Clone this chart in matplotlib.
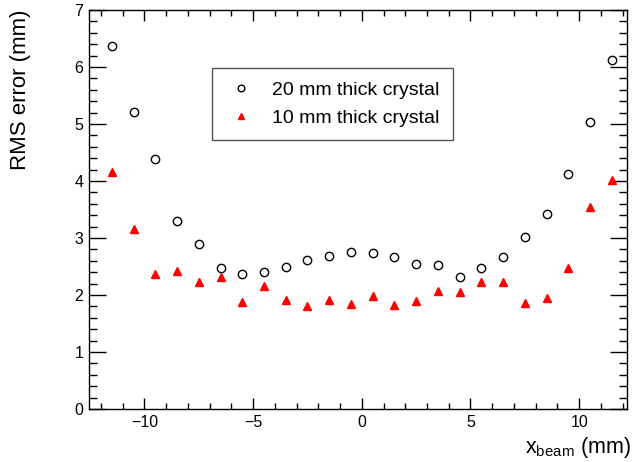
import matplotlib
matplotlib.use("Agg")
import matplotlib.pyplot as plt
from matplotlib.ticker import MultipleLocator

plt.rcParams["font.family"] = ["Liberation Sans", "DejaVu Sans"]

# --- data ---
x_beam = [-11.5, -10.5, -9.5, -8.5, -7.5, -6.5, -5.5, -4.5, -3.5, -2.5, -1.5, -0.5,
          0.5, 1.5, 2.5, 3.5, 4.5, 5.5, 6.5, 7.5, 8.5, 9.5, 10.5, 11.5]
rms_20mm = [6.36, 5.21, 4.39, 3.30, 2.90, 2.47, 2.36, 2.41, 2.49, 2.62, 2.68, 2.76,
            2.73, 2.67, 2.54, 2.53, 2.31, 2.47, 2.67, 3.01, 3.42, 4.13, 5.04, 6.13]
rms_10mm = [4.15, 3.16, 2.36, 2.42, 2.22, 2.32, 1.87, 2.15, 1.91, 1.81, 1.92, 1.85,
            1.98, 1.82, 1.89, 2.07, 2.05, 2.23, 2.22, 1.86, 1.95, 2.47, 3.54, 4.02]
label_20mm = "20 mm thick crystal"
label_10mm = "10 mm thick crystal"

W, H = 634, 462
fig = plt.figure(figsize=(W / 100, H / 100), dpi=100)
ax = fig.add_axes([89 / W, 1 - 409 / H, (627 - 89) / W, (409 - 10) / H])

ax.plot(x_beam, rms_20mm, "o", ms=6, mfc="none", mec="black", mew=1.0,
        ls="none", label=label_20mm)
ax.plot(x_beam, rms_10mm, "^", ms=6, mfc="red", mec="red",
        ls="none", label=label_10mm)

ax.set_xlim(-12.55, 12.2)
ax.set_ylim(0, 7)
ax.xaxis.set_major_locator(MultipleLocator(5))
ax.xaxis.set_minor_locator(MultipleLocator(1))
ax.yaxis.set_major_locator(MultipleLocator(1))
ax.yaxis.set_minor_locator(MultipleLocator(0.2))

for sp in ax.spines.values():
    sp.set_linewidth(1.0)

ax.tick_params(axis="both", which="both", direction="in", top=True, right=True,
               width=1.0, labelsize=11.5, color="black")
ax.tick_params(axis="x", which="major", length=8, pad=4)
ax.tick_params(axis="x", which="minor", length=4)
ax.tick_params(axis="y", which="major", length=12, pad=4)
ax.tick_params(axis="y", which="minor", length=6)

fig.text(631 / W, 1 - 453 / H, r"x$_{\mathregular{beam}}$ (mm)", ha="right",
         va="baseline", fontsize=15.5)
fig.text(10 / W, 1 - 9 / H, "RMS error (mm)", rotation=90, ha="left", va="top",
         fontsize=16)

leg = ax.legend(loc="upper left", bbox_to_anchor=(212 / W, 1 - 68 / H),
                bbox_transform=fig.transFigure, fontsize=14, frameon=True,
                fancybox=False, edgecolor="#555555", framealpha=1,
                borderaxespad=0, borderpad=0.7, labelspacing=0.5,
                handletextpad=0.8, handlelength=1.6, numpoints=1,
                markerscale=0.8)
leg.get_frame().set_linewidth(1.0)

fig.savefig("out.png", dpi=100)
